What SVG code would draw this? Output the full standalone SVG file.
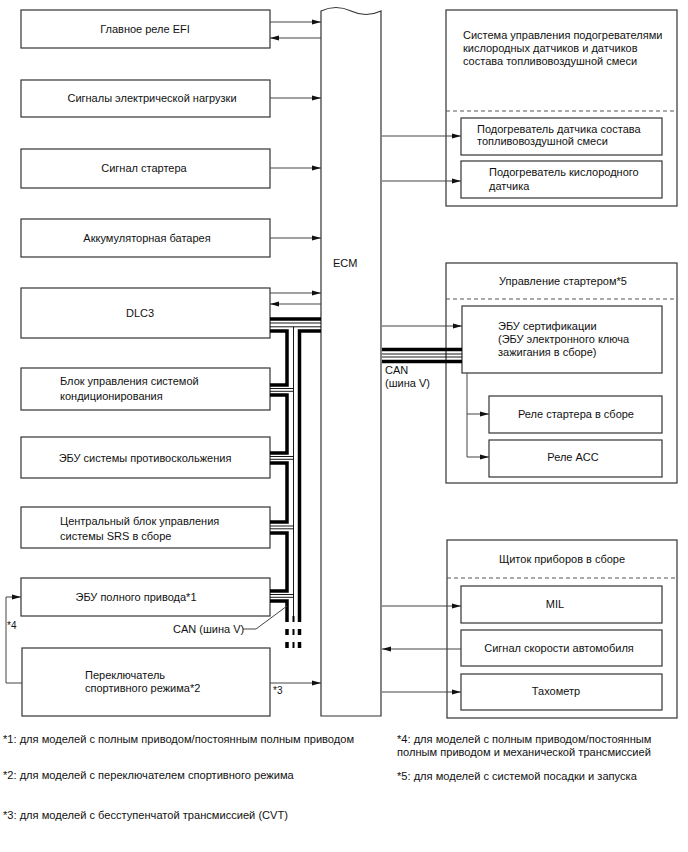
<svg xmlns="http://www.w3.org/2000/svg" width="688" height="852" viewBox="0 0 688 852">
<style>
text{font-family:"Liberation Sans",Arial,sans-serif;font-size:11px;fill:#111}
.c{text-anchor:middle}
.box{fill:#fff;stroke:#333;stroke-width:1.2}
.grp{fill:#fff;stroke:#333;stroke-width:1.2}
.dash{stroke:#555;stroke-width:1;stroke-dasharray:4,3;fill:none}
.ln{stroke:#444;stroke-width:1;fill:none}
.thk{stroke:#000;stroke-width:3.5;fill:none;stroke-linejoin:miter}
.thn{stroke:#000;stroke-width:0.9;fill:none}
.fn{font-size:11.1px}
</style>
<defs>
<marker id="a" markerWidth="9" markerHeight="6" refX="9" refY="3" orient="auto" markerUnits="userSpaceOnUse"><path d="M0,0.6 L9,3 L0,5.4 z" fill="#111"/></marker>
</defs>
<rect width="688" height="852" fill="#fff"/>

<g id="ecm">
<path d="M321,716 V11 Q336,4 351,11 T381,11 V716 Z" fill="#fff" stroke="#333" stroke-width="1.2"/>
<text x="333" y="267">ECM</text>
</g>

<g id="efi-relay"><rect class="box" x="21" y="10" width="249" height="38"/><text class="c" x="145" y="33">Главное реле EFI</text></g>
<g id="elec-load"><rect class="box" x="21" y="80" width="249" height="37"/><text class="c" x="152" y="102">Сигналы электрической нагрузки</text></g>
<g id="starter-signal"><rect class="box" x="21" y="149" width="249" height="39"/><text class="c" x="144" y="172">Сигнал стартера</text></g>
<g id="battery"><rect class="box" x="21" y="219" width="249" height="38"/><text class="c" x="147" y="242">Аккумуляторная батарея</text></g>
<g id="dlc3"><rect class="box" x="21" y="288" width="249" height="50"/><text class="c" x="140" y="317">DLC3</text></g>
<g id="ac"><rect class="box" x="21" y="368" width="249" height="42"/><text x="60" y="385">Блок управления системой</text><text x="60" y="400">кондиционирования</text></g>
<g id="skid"><rect class="box" x="21" y="437" width="249" height="41"/><text class="c" x="145" y="462">ЭБУ системы противоскольжения</text></g>
<g id="srs"><rect class="box" x="21" y="507" width="249" height="41"/><text x="60" y="525">Центральный блок управления</text><text x="60" y="540">системы SRS в сборе</text></g>
<g id="awd"><rect class="box" x="21" y="578" width="249" height="38"/><text class="c" x="136" y="601">ЭБУ полного привода*1</text></g>
<g id="sport"><rect class="box" x="22" y="648" width="248" height="68"/><text x="85" y="679">Переключатель</text><text x="85" y="692">спортивного режима*2</text></g>

<g id="heater-sys">
<rect class="grp" x="446" y="10" width="231" height="196"/>
<text x="463" y="39">Система управления подогревателями</text>
<text x="463" y="52">кислородных датчиков и датчиков</text>
<text x="463" y="65">состава топливовоздушной смеси</text>
<line class="dash" x1="446" y1="111" x2="677" y2="111"/>
</g>
<g id="af-heater"><rect class="box" x="461" y="118" width="201" height="37"/><text x="477" y="133">Подогреватель датчика состава</text><text x="477" y="145">топливовоздушной смеси</text></g>
<g id="o2-heater"><rect class="box" x="461" y="161" width="201" height="37"/><text x="489" y="176">Подогреватель кислородного</text><text x="489" y="190">датчика</text></g>

<g id="starter-ctrl">
<rect class="grp" x="446" y="263" width="231" height="220"/>
<text class="c" x="563" y="285">Управление стартером*5</text>
<line class="dash" x1="446" y1="299" x2="677" y2="299"/>
</g>
<g id="cert-ecu"><rect class="box" x="462" y="306" width="200" height="67"/><text x="498" y="330">ЭБУ сертификации</text><text x="498" y="343">(ЭБУ электронного ключа</text><text x="498" y="356">зажигания в сборе)</text></g>
<g id="st-relay"><rect class="box" x="489" y="396" width="173" height="37"/><text class="c" x="576" y="418">Реле стартера в сборе</text></g>
<g id="acc-relay"><rect class="box" x="489" y="440" width="173" height="37"/><text class="c" x="573" y="461">Реле ACC</text></g>

<g id="combo-meter">
<rect class="grp" x="447" y="540" width="230" height="178"/>
<text class="c" x="562" y="563">Щиток приборов в сборе</text>
<line class="dash" x1="447" y1="578" x2="677" y2="578"/>
</g>
<g id="mil"><rect class="box" x="461" y="586" width="201" height="37"/><text class="c" x="555" y="608">MIL</text></g>
<g id="speed"><rect class="box" x="461" y="630" width="201" height="36"/><text class="c" x="559" y="652">Сигнал скорости автомобиля</text></g>
<g id="tacho"><rect class="box" x="461" y="674" width="201" height="36"/><text class="c" x="556" y="695">Тахометр</text></g>

<g id="connectors">
<path class="ln" d="M270,22 H321" marker-end="url(#a)"/>
<path class="ln" d="M321,38 H270" marker-end="url(#a)"/>
<path class="ln" d="M270,98 H321" marker-end="url(#a)"/>
<path class="ln" d="M270,168 H321" marker-end="url(#a)"/>
<path class="ln" d="M270,238 H321" marker-end="url(#a)"/>
<path class="ln" d="M270,293 H321" marker-end="url(#a)"/>
<path class="ln" d="M321,304 H270" marker-end="url(#a)"/>
<path class="ln" d="M270,683 H321" marker-end="url(#a)"/>
<path class="ln" d="M22,683 H6 V597 H21" marker-end="url(#a)"/>
<path class="ln" d="M382,136 H461" marker-end="url(#a)"/>
<path class="ln" d="M382,181 H461" marker-end="url(#a)"/>
<path class="ln" d="M382,326 H462" marker-end="url(#a)"/>
<path class="ln" d="M467,373 V457 H489" marker-end="url(#a)"/>
<path class="ln" d="M467,414 H489" marker-end="url(#a)"/>
<path class="ln" d="M382,606 H461" marker-end="url(#a)"/>
<path class="ln" d="M461,649 H382" marker-end="url(#a)"/>
<path class="ln" d="M382,692 H461" marker-end="url(#a)"/>

<path class="thk" d="M270,319 H321"/>
<path class="thn" d="M270,323 H321"/>
<path class="thn" d="M270,326.8 H321"/>
<path class="thn" d="M293.5,326.8 V616"/>
<path class="thk" d="M321,331 H299.5 V616"/>
<path class="thk" d="M270,331 H287 V385 H270"/>
<path class="thk" d="M270,395 H287 V453 H270"/>
<path class="thk" d="M270,463 H287 V522 H270"/>
<path class="thk" d="M270,533 H287 V591 H270"/>
<path class="thk" d="M270,601 H287 V616"/>
<path class="thn" d="M270,388.5 H293.5 M270,391.3 H293.5"/>
<path class="thn" d="M270,456.5 H293.5 M270,459.3 H293.5"/>
<path class="thn" d="M270,526 H293.5 M270,528.8 H293.5"/>
<path class="thn" d="M270,594.5 H293.5 M270,597.3 H293.5"/>
<path d="M287,616 V648 M299.5,616 V648" stroke="#000" stroke-width="3.5" stroke-dasharray="6,7" fill="none"/>
<path d="M293.5,616 V648" stroke="#000" stroke-width="2" stroke-dasharray="6,7" fill="none"/>
<path class="ln" d="M243,629 H256 L287,606"/>

<path class="thk" d="M382,349.5 H462"/>
<path class="thn" d="M382,354 H462"/>
<path class="thn" d="M382,357 H462"/>
<path class="thk" d="M382,361.5 H462"/>
</g>

<g id="labels">
<text x="385" y="374">CAN</text>
<text x="385" y="387">(шина V)</text>
<text x="173" y="633">CAN (шина V)</text>
<text x="7" y="629" style="font-size:10px">*4</text>
<text x="273" y="694" style="font-size:10px">*3</text>
</g>

<g id="footnotes">
<text class="fn" x="3" y="743">*1: для моделей с полным приводом/постоянным полным приводом</text>
<text class="fn" x="3" y="779">*2: для моделей с переключателем спортивного режима</text>
<text class="fn" x="3" y="819">*3: для моделей с бесступенчатой трансмиссией (CVT)</text>
<text class="fn" x="397" y="743">*4: для моделей с полным приводом/постоянным</text>
<text class="fn" x="397" y="756">полным приводом и механической трансмиссией</text>
<text class="fn" x="397" y="780">*5: для моделей с системой посадки и запуска</text>
</g>
</svg>
